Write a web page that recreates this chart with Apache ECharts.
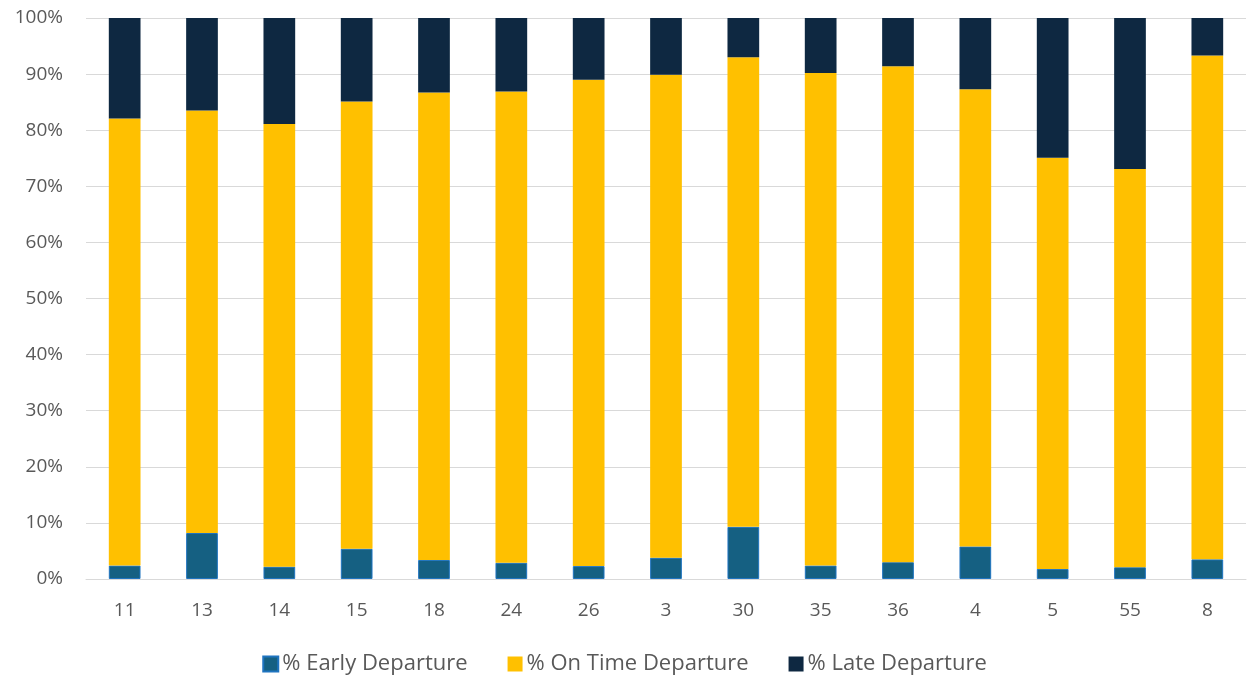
<!DOCTYPE html>
<html>
<head>
<meta charset="utf-8">
<script src="https://cdn.jsdelivr.net/npm/echarts@6/dist/echarts.min.js"></script>
<style>
  html, body { margin: 0; padding: 0; background: #ffffff; }
  #chart { width: 1249px; height: 680px; }
</style>
</head>
<body>
<div id="chart"></div>
<script>
// Route numbers along the x axis
const routes = ['11', '13', '14', '15', '18', '24', '26', '3', '30', '35', '36', '4', '5', '55', '8'];

// Share of departures per route, in percent
const earlyPct  = [2.4, 8.2, 2.2, 5.4, 3.4, 2.9, 2.3, 3.8, 9.3, 2.4, 3.0, 5.8, 1.8, 2.1, 3.5];
const onTimePct = [79.7, 75.3, 78.9, 79.7, 83.3, 84.0, 86.7, 86.1, 83.7, 87.8, 88.4, 81.5, 73.3, 71.0, 89.8];
const latePct   = [17.9, 16.5, 18.9, 14.9, 13.3, 13.1, 11.0, 10.1, 7.0, 9.8, 8.6, 12.7, 24.9, 26.9, 6.7];

const seriesNames = ['% Early Departure', '% On Time Departure', '% Late Departure'];

const FONT = 'Open Sans';
const textGrey = '#595959';

const chart = echarts.init(document.getElementById('chart'), null, { renderer: 'canvas' });

function barSeries(name, data, color, border) {
  return {
    name: name,
    type: 'bar',
    stack: 'total',
    data: data,
    barCategoryGap: '59%',
    itemStyle: border
      ? { color: color, borderColor: border, borderWidth: 1 }
      : { color: color },
    emphasis: { disabled: true }
  };
}

chart.setOption({
  animation: false,
  textStyle: { fontFamily: FONT },
  grid: { left: 86, right: 3, top: 18, bottom: 101, containLabel: false },
  legend: {
    bottom: 0,
    left: 'center',
    itemWidth: 15,
    itemHeight: 15,
    itemGap: 40,
    icon: 'rect',
    textStyle: { fontFamily: FONT, fontSize: 22, color: textGrey, padding: [0, 0, 0, -1] },
    data: seriesNames
  },
  xAxis: {
    type: 'category',
    data: routes,
    axisLine: { show: true, lineStyle: { color: '#d9d9d9', width: 1 } },
    axisTick: { show: false },
    axisLabel: { fontFamily: FONT, fontSize: 19, color: textGrey, margin: 22 }
  },
  yAxis: {
    type: 'value',
    min: 0,
    max: 100,
    interval: 10,
    axisLine: { show: false },
    axisTick: { show: false },
    axisLabel: {
      fontFamily: FONT, fontSize: 19, color: textGrey, margin: 23,
      formatter: v => v + '%'
    },
    splitLine: { lineStyle: { color: '#d9d9d9', width: 1 } }
  },
  series: [
    barSeries(seriesNames[0], earlyPct, '#156082', '#1f74c0'),
    barSeries(seriesNames[1], onTimePct, '#FFC000'),
    barSeries(seriesNames[2], latePct, '#0E2841')
  ]
});
</script>
</body>
</html>
